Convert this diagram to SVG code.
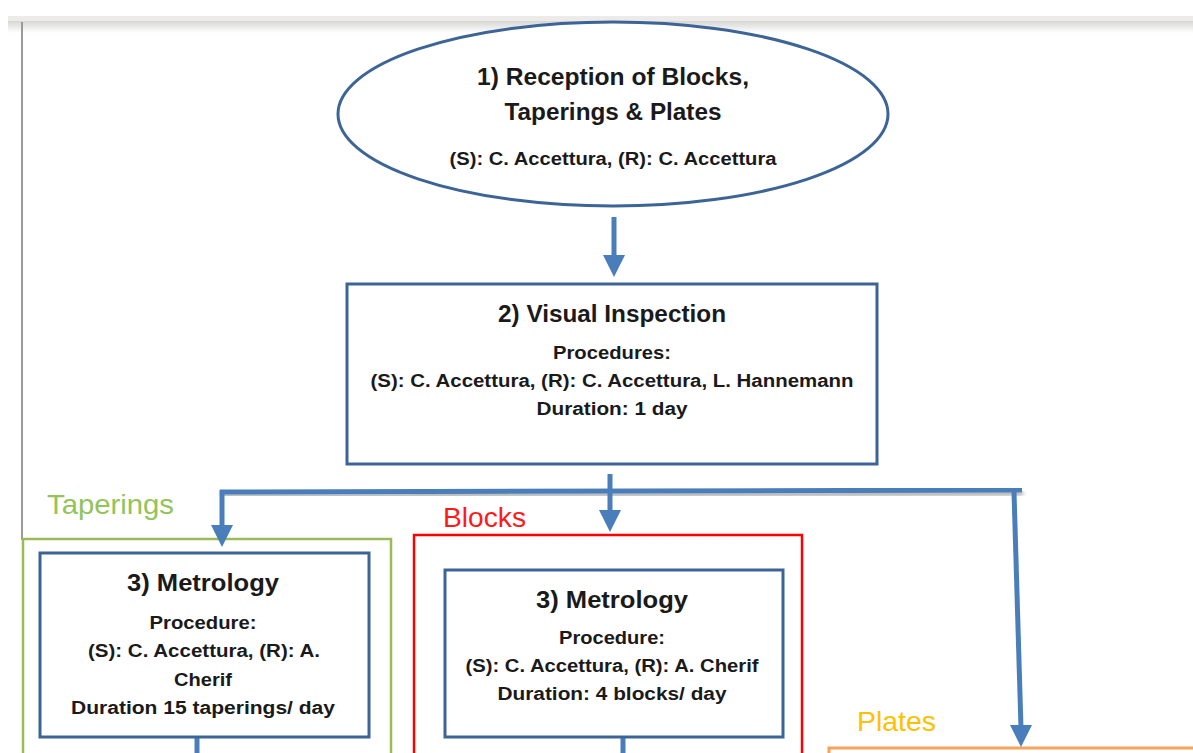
<svg xmlns="http://www.w3.org/2000/svg" width="1193" height="753" viewBox="0 0 1193 753">
  <defs>
    <linearGradient id="topShade" x1="0" y1="0" x2="0" y2="1">
      <stop offset="0" stop-color="#d6d6d4"/>
      <stop offset="1" stop-color="#ffffff"/>
    </linearGradient>
    <filter id="shadow" x="-5%" y="-100%" width="110%" height="400%">
      <feGaussianBlur in="SourceAlpha" stdDeviation="2"/>
      <feOffset dx="1" dy="3" result="b"/>
      <feComponentTransfer><feFuncA type="linear" slope="0.35"/></feComponentTransfer>
      <feMerge><feMergeNode/><feMergeNode in="SourceGraphic"/></feMerge>
    </filter>
  </defs>
  <style>
    .node { fill: #ffffff; stroke: #3c6496; stroke-width: 3; }
    .t { font-family: "Liberation Sans", Arial, sans-serif; font-weight: bold; fill: #1a1a1a; text-anchor: middle; }
    .h { font-size: 23px; }
    .s { font-size: 18px; }
    .lab { font-family: "Liberation Sans", Arial, sans-serif; font-size: 28px; }
    .conn { fill: none; stroke: #4a7ebb; stroke-width: 5; }
    .head { fill: #4a7ebb; }
  </style>

  <rect width="1193" height="753" fill="#ffffff"/>
  <!-- page frame -->
  <rect x="8" y="16" width="1185" height="5" fill="#ecebe9"/>
  <rect x="8" y="21" width="1185" height="12" fill="url(#topShade)"/>
  <line x1="22" y1="22" x2="22" y2="540" stroke="#9a9a9a" stroke-width="2"/>

  <!-- group frames -->
  <g id="group-taperings">
    <rect x="23" y="539" width="368" height="230" fill="none" stroke="#9bbb59" stroke-width="2.5"/>
    <text class="lab" x="47" y="514" fill="#92c45a" textLength="127" lengthAdjust="spacingAndGlyphs">Taperings</text>
  </g>
  <g id="group-blocks">
    <rect x="414" y="535" width="388" height="230" fill="none" stroke="#ff0000" stroke-width="2.5"/>
    <text class="lab" x="443" y="527" fill="#ff1a1a" textLength="83" lengthAdjust="spacingAndGlyphs">Blocks</text>
  </g>
  <g id="group-plates">
    <rect x="829" y="748" width="380" height="30" fill="none" stroke="#f6a45a" stroke-width="3"/>
    <text class="lab" x="857" y="731" fill="#ffc000" textLength="79" lengthAdjust="spacingAndGlyphs">Plates</text>
  </g>

  <!-- connectors -->
  <g id="connectors">
    <line class="conn" x1="614" y1="217" x2="614" y2="258"/>
    <polygon class="head" points="603,255 625,255 614,277"/>

    <path class="conn" d="M 220 492 L 1022 490" filter="url(#shadow)"/>
    <line class="conn" x1="610" y1="474" x2="610" y2="512"/>
    <polygon class="head" points="599,510 621,510 610,532"/>
    <line class="conn" x1="222" y1="490" x2="222" y2="528"/>
    <polygon class="head" points="211,525 233,525 222,547"/>
    <line class="conn" x1="1014" y1="492" x2="1021" y2="728"/>
    <polygon class="head" points="1010,725 1032,725 1021,747"/>

    <line class="conn" x1="197" y1="738" x2="197" y2="753"/>
    <line class="conn" x1="623" y1="738" x2="623" y2="753"/>
  </g>

  <!-- step 1 -->
  <g id="node-reception">
    <ellipse class="node" cx="613" cy="114" rx="275" ry="92"/>
    <text class="t h" x="613" y="85" textLength="272" lengthAdjust="spacingAndGlyphs">1) Reception of Blocks,</text>
    <text class="t h" x="613" y="120" textLength="217" lengthAdjust="spacingAndGlyphs">Taperings &amp; Plates</text>
    <text class="t s" x="613" y="165" textLength="327" lengthAdjust="spacingAndGlyphs">(S): C. Accettura, (R): C. Accettura</text>
  </g>

  <!-- step 2 -->
  <g id="node-visual-inspection">
    <rect class="node" x="347" y="284" width="530" height="180"/>
    <text class="t h" x="612" y="322" textLength="228" lengthAdjust="spacingAndGlyphs">2) Visual Inspection</text>
    <text class="t s" x="612" y="359" textLength="118" lengthAdjust="spacingAndGlyphs">Procedures:</text>
    <text class="t s" x="612" y="387" textLength="483" lengthAdjust="spacingAndGlyphs">(S): C. Accettura, (R): C. Accettura, L. Hannemann</text>
    <text class="t s" x="612" y="415" textLength="151" lengthAdjust="spacingAndGlyphs">Duration: 1 day</text>
  </g>

  <!-- step 3, taperings -->
  <g id="node-metrology-taperings">
    <rect class="node" x="40" y="553" width="329" height="184"/>
    <text class="t h" x="203" y="591" textLength="152" lengthAdjust="spacingAndGlyphs">3) Metrology</text>
    <text class="t s" x="203" y="629" textLength="107" lengthAdjust="spacingAndGlyphs">Procedure:</text>
    <text class="t s" x="204" y="657" textLength="232" lengthAdjust="spacingAndGlyphs">(S): C. Accettura, (R): A.</text>
    <text class="t s" x="203" y="686" textLength="58" lengthAdjust="spacingAndGlyphs">Cherif</text>
    <text class="t s" x="203" y="714" textLength="264" lengthAdjust="spacingAndGlyphs">Duration 15 taperings/ day</text>
  </g>

  <!-- step 3, blocks -->
  <g id="node-metrology-blocks">
    <rect class="node" x="445" y="570" width="338" height="167"/>
    <text class="t h" x="612" y="608" textLength="152" lengthAdjust="spacingAndGlyphs">3) Metrology</text>
    <text class="t s" x="612" y="644" textLength="106" lengthAdjust="spacingAndGlyphs">Procedure:</text>
    <text class="t s" x="612" y="672" textLength="293" lengthAdjust="spacingAndGlyphs">(S): C. Accettura, (R): A. Cherif</text>
    <text class="t s" x="612" y="700" textLength="229" lengthAdjust="spacingAndGlyphs">Duration: 4 blocks/ day</text>
  </g>
</svg>
